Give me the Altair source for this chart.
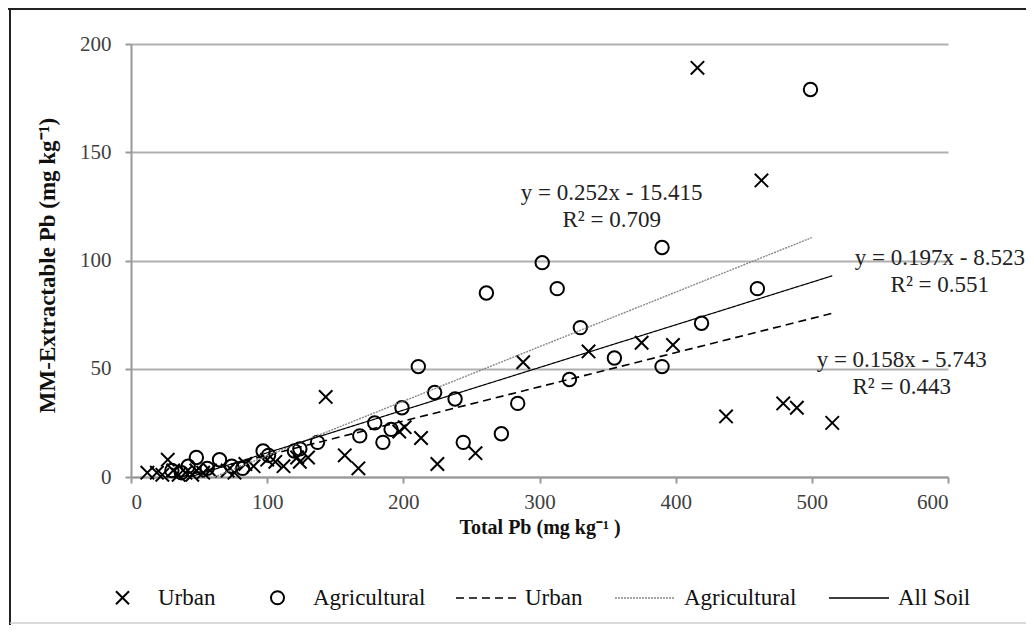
import altair as alt
import pandas as pd

# ---- data ----
urban_x = [416, 463, 143, 288, 336, 375, 398, 437, 479, 489, 515, 213, 197, 201, 157, 167, 225, 253, 122,
           12, 19, 23, 27, 31, 35, 40, 45, 48, 53, 58, 71, 76, 84, 90, 100, 106, 112, 124, 130]
urban_y = [189, 137, 37, 53, 58, 62, 61, 28, 34, 32, 25, 18, 21, 23, 10, 4, 6, 11, 9,
           2, 2, 1, 8, 3, 1, 2, 1, 3, 2, 3, 3, 2, 6, 5, 8, 7, 5, 7, 9]

agri_x = [499, 390, 302, 261, 313, 460, 330, 419, 355, 390, 322, 211, 223, 238, 284, 272, 244, 199, 179,
          191, 168, 185, 137, 124, 30, 37, 42, 48, 56, 65, 74, 82, 97, 101, 120]
agri_y = [179, 106, 99, 85, 87, 87, 69, 71, 55, 51, 45, 51, 39, 36, 34, 20, 16, 32, 25,
          22, 19, 16, 16, 13, 3, 2, 5, 9, 4, 8, 5, 4, 12, 10, 12]

fit_names = ["Urban", "Agricultural", "All Soil"]
fit_slope = [0.158, 0.252, 0.197]
fit_intercept = [-5.743, -15.415, -8.523]
fit_x_end = [515, 500, 515]

eq_text = ["y = 0.158x - 5.743", "R² = 0.443",
           "y = 0.252x - 15.415", "R² = 0.709",
           "y = 0.197x - 8.523", "R² = 0.551"]
eq_x = [566, 566, 353, 353, 594, 594]
eq_y = [54, 41.6, 131.2, 118.7, 101.2, 88.7]

x_ticks = [0, 100, 200, 300, 400, 500, 600]
y_ticks = [0, 50, 100, 150, 200]

# ---- tables ----
pts = pd.DataFrame({
    "x": urban_x + agri_x,
    "y": urban_y + agri_y,
    "kind": ["Urban"] * len(urban_x) + ["Agricultural"] * len(agri_x),
})

rows = []
for n, a, b, xe in zip(fit_names, fit_slope, fit_intercept, fit_x_end):
    x0 = -b / a
    rows.append({"fit": n, "x": x0, "y": a * x0 + b})
    rows.append({"fit": n, "x": xe, "y": a * xe + b})
fits = pd.DataFrame(rows)

eqs = pd.DataFrame({"t": eq_text, "x": eq_x, "y": eq_y})

SERIF = "Liberation Serif"
X_PATH = "M-1,-1L1,1M-1,1L1,-1"

xs = alt.Scale(domain=[0, 600], nice=False, zero=False)
ys = alt.Scale(domain=[0, 200], nice=False, zero=False)

x_axis = alt.Axis(values=x_ticks, grid=False, domainColor="#999", domainWidth=2,
                  tickColor="#999", tickWidth=2, tickSize=6,
                  labelFont=SERIF, labelFontSize=21, labelColor="#404040", labelPadding=8,
                  title="Total Pb (mg kg⁻¹ )", titleFont=SERIF, titleFontSize=20,
                  titleFontWeight="bold", titleColor="#111", titleY=50, titleBaseline="middle")
y_axis = alt.Axis(values=y_ticks, grid=True, gridColor="#b0b0b0", gridWidth=2,
                  domainColor="#999", domainWidth=2, tickColor="#999", tickWidth=2, tickSize=6,
                  labelFont=SERIF, labelFontSize=21, labelColor="#404040", labelPadding=14,
                  title="MM-Extractable Pb (mg kg⁻¹)", titleFont=SERIF, titleFontSize=23,
                  titleFontWeight="bold", titleColor="#111", titleX=-84, titleY=221,
                  titleAngle=270, titleAlign="center", titleBaseline="middle")

points = alt.Chart(pts).mark_point(filled=False, color="black", strokeWidth=2,
                                   opacity=1, size=180).encode(
    x=alt.X("x:Q", scale=xs, axis=x_axis),
    y=alt.Y("y:Q", scale=ys, axis=y_axis),
    shape=alt.Shape("kind:N",
                    scale=alt.Scale(domain=["Urban", "Agricultural"], range=[X_PATH, "circle"]),
                    legend=alt.Legend(title=None, orient="none", legendX=-20, legendY=542,
                                      direction="horizontal", symbolSize=170,
                                      symbolStrokeColor="black", symbolFillColor="transparent",
                                      symbolStrokeWidth=2, labelFont=SERIF, labelFontSize=23,
                                      labelColor="#111", labelOffset=24, columnPadding=50)),
)

line_legend = alt.Legend(title=None, orient="none", legendX=324, legendY=523,
                         direction="horizontal", symbolType="stroke", symbolSize=3600,
                         symbolStrokeWidth=1.5, labelFont=SERIF, labelFontSize=23,
                         labelColor="#111", labelOffset=8, columnPadding=29)

lines = alt.Chart(fits).mark_line(clip=True).encode(
    x=alt.X("x:Q", scale=xs),
    y=alt.Y("y:Q", scale=ys),
    color=alt.Color("fit:N", scale=alt.Scale(domain=fit_names, range=["black", "#888", "black"]),
                    legend=line_legend),
    strokeDash=alt.StrokeDash("fit:N", scale=alt.Scale(domain=fit_names,
                                                       range=[[8, 5], [2, 1], [1, 0]]),
                              legend=line_legend),
    strokeWidth=alt.StrokeWidth("fit:N", scale=alt.Scale(domain=fit_names, range=[1.6, 1.2, 1.8]),
                                legend=None),
)

texts = alt.Chart(eqs).mark_text(font=SERIF, fontSize=23, color="#222",
                                 align="center", baseline="middle").encode(
    x=alt.X("x:Q", scale=xs),
    y=alt.Y("y:Q", scale=ys),
    text="t:N",
)

one = pd.DataFrame({"a": [0]})
frame_top = alt.Chart(one).mark_rule(color="#222", strokeWidth=2).encode(
    x=alt.value(-123), x2=alt.value(895), y=alt.value(-35))
frame_left = alt.Chart(one).mark_rule(color="#222", strokeWidth=2).encode(
    x=alt.value(-121), y=alt.value(-36), y2=alt.value(581))
frame_bottom = alt.Chart(one).mark_rule(color="#cccccc", strokeWidth=1.5).encode(
    x=alt.value(-121), x2=alt.value(895), y=alt.value(579))

chart = alt.layer(points, lines, texts, frame_top, frame_left, frame_bottom).resolve_scale(
    shape="independent", color="independent", strokeDash="independent"
).properties(
    width=817, height=433,
    autosize=alt.AutoSizeParams(type="none"),
    padding={"left": 123, "top": 36, "right": 78, "bottom": 148},
    background="white",
).configure_view(stroke=None)

chart.save("out.html", embed_options={"renderer": "svg", "actions": False})
